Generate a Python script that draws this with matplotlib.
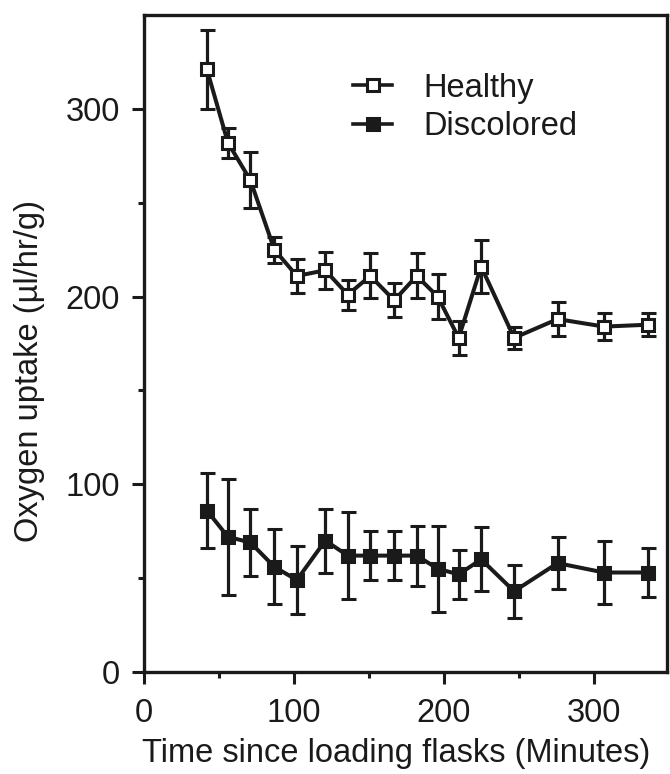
import numpy as np
import matplotlib
matplotlib.use("Agg")
from matplotlib import pyplot as plt
from matplotlib.lines import Line2D

plt.rcParams['font.family'] = ['Liberation Sans', 'DejaVu Sans']

ink = '#1a1a1a'

# time points (minutes)
time_min = [42, 56, 71, 87, 102, 121, 136, 151, 167, 182, 196, 210, 225, 247, 276, 307, 336]

healthy = [321, 282, 262, 225, 211, 214, 201, 211, 198, 211, 200, 178, 216, 178, 188, 184, 185]
healthy_err = [21, 8, 15, 7, 9, 10, 8, 12, 9, 12, 12, 9, 14, 6, 9, 7, 6]

discolored = [86, 72, 69, 56, 49, 70, 62, 62, 62, 62, 55, 52, 60, 43, 58, 53, 53]
discolored_err = [20, 31, 18, 20, 18, 17, 23, 13, 13, 16, 23, 13, 17, 14, 14, 17, 13]

x_ticks = [0, 100, 200, 300]
x_minor = [50, 150, 250]
y_ticks = [0, 100, 200, 300]
y_minor = [50, 150, 250]

fig = plt.figure(figsize=(6.7, 7.74), dpi=100)
ax = fig.add_axes([0.2149, 0.1318, 0.7806, 0.8488])

common = dict(color=ink, lw=2.9, elinewidth=2.3, capsize=5.4, capthick=2.4,
              marker='s', markersize=9, markeredgewidth=2.2, markeredgecolor=ink)

ax.errorbar(time_min, discolored, yerr=discolored_err, markerfacecolor=ink, zorder=3, **common)
ax.errorbar(time_min, healthy, yerr=healthy_err, markerfacecolor='white', zorder=4, **common)

ax.set_xlim(0, 349)
ax.set_ylim(0, 350)
ax.set_xticks(x_ticks)
ax.set_xticks(x_minor, minor=True)
ax.set_yticks(y_ticks)
ax.set_yticks(y_minor, minor=True)

ax.tick_params(which='both', direction='out', width=2.2, color=ink,
               labelsize=23.5, labelcolor=ink)
ax.tick_params(which='major', length=8.5)
ax.tick_params(which='minor', length=4.5)
ax.tick_params(axis='x', which='major', pad=10)
ax.tick_params(axis='y', which='major', pad=9)

for s in ax.spines.values():
    s.set_linewidth(2.4)
    s.set_color(ink)

ax.set_xlabel('Time since loading flasks (Minutes)', fontsize=23.5, color=ink)
ax.xaxis.set_label_coords(0.483, -0.100)
ax.set_ylabel('Oxygen uptake (µl/hr/g)', fontsize=23.5, color=ink)
ax.yaxis.set_label_coords(-0.189, 0.458)

# legend shows line + marker only, no error bars
handles = [
    Line2D([], [], color=ink, lw=2.6, marker='s', markersize=8, markeredgewidth=2.2,
           markeredgecolor=ink, markerfacecolor='white'),
    Line2D([], [], color=ink, lw=2.6, marker='s', markersize=8, markeredgewidth=2.2,
           markeredgecolor=ink, markerfacecolor=ink),
]
ax.legend(handles, ['Healthy', 'Discolored'], loc='upper left', bbox_to_anchor=(0.3996, 0.912),
          frameon=False, fontsize=23.5, handlelength=1.2, handletextpad=0.95,
          labelspacing=0.22, borderpad=0, borderaxespad=0, labelcolor=ink)

fig.savefig('out.png', dpi=100)
